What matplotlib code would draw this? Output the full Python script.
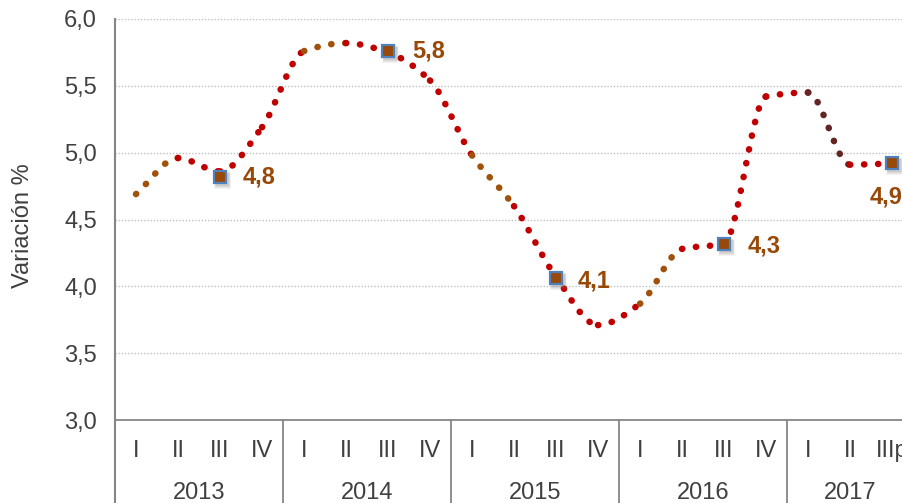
import numpy as np
import matplotlib
matplotlib.use('Agg')
import matplotlib.pyplot as plt
from matplotlib.path import Path
from matplotlib.patches import PathPatch
import matplotlib.transforms as mtransforms

plt.rcParams['font.family'] = ['Liberation Sans', 'DejaVu Sans']

# data
years = ['2013', '2014', '2015', '2016', '2017']
quarters_per_year = [4, 4, 4, 4, 3]
quarter_labels = ['I', 'II', 'III', 'IV', 'I', 'II', 'III', 'IV', 'I', 'II', 'III', 'IV',
                  'I', 'II', 'III', 'IV', 'I', 'II', 'IIIp']
line_values = [4.69, 4.96, 4.86, 5.19, 5.76, 5.82, 5.75, 5.54, 4.98, 4.60, 4.07, 3.71,
               3.87, 4.28, 4.32, 5.42, 5.45, 4.91, 4.92]
# colour of each piece between two quarters
segment_colors = ['brown', 'red', 'red', 'red', 'brown', 'red', 'red', 'red', 'brown', 'red',
                  'red', 'red', 'brown', 'red', 'red', 'red', 'dark', 'red']
marker_idx = [2, 6, 10, 14, 18]
marker_values = [4.82, 5.76, 4.06, 4.32, 4.92]
y_ticks = [3.0, 3.5, 4.0, 4.5, 5.0, 5.5, 6.0]

# styles / positions
palette = {'red': '#C00000', 'brown': '#A0520C', 'dark': '#632523'}
label_offsets = [(23, 0), (24, 0), (22, -3), (24, -2), (-22, -34)]
text_grey = '#404040'
axis_grey = '#868686'
fs = 17

fig = plt.figure(figsize=(9.03, 5.03), dpi=100)
ax = fig.add_axes([115 / 903, 83 / 503, 798 / 903, 401 / 503])

n = len(line_values)
x = np.arange(n)
y = np.array(line_values)
ax.set_xlim(-0.5, n - 0.5)
ax.set_ylim(3.0, 6.0)

# smoothed line: bezier pieces with monotone (no overshoot) tangents
d = np.diff(y)
m = np.zeros(n)
m[0], m[-1] = d[0], d[-1]
for k in range(1, n - 1):
    if d[k - 1] * d[k] > 0:
        m[k] = 2 / (1 / d[k - 1] + 1 / d[k])
for i in range(n - 1):
    p1 = (x[i], y[i])
    p2 = (x[i + 1], y[i + 1])
    c1 = (x[i] + 1 / 3, y[i] + m[i] / 3)
    c2 = (x[i + 1] - 1 / 3, y[i + 1] - m[i + 1] / 3)
    path = Path([p1, c1, c2, p2], [Path.MOVETO, Path.CURVE4, Path.CURVE4, Path.CURVE4])
    ax.add_patch(PathPatch(path, fill=False, edgecolor=palette[segment_colors[i]],
                           linewidth=4.7, linestyle=(0, (0.05, 2.1)), capstyle='round',
                           zorder=3))

# markers with a soft shadow
mx = [x[i] for i in marker_idx]
for dx, dy, a, s in [(2, -3, 0.18, 11), (2, -2, 0.25, 9.5)]:
    shadow = mtransforms.offset_copy(ax.transData, fig=fig, x=dx, y=dy, units='dots')
    ax.plot(mx, marker_values, 's', ms=s, color='#7F7F7F', alpha=a, mec='none',
            transform=shadow, zorder=4, clip_on=False)
ax.plot(mx, marker_values, 's', ms=9, mfc='#984807', mec='#4F81BD', mew=1.6,
        zorder=5, clip_on=False)

for v, xi, off in zip(marker_values, mx, label_offsets):
    ax.annotate(f'{v:.1f}'.replace('.', ','), (xi, v), xytext=off,
                textcoords='offset pixels', ha='left', va='center', fontsize=fs,
                fontweight='bold', color='#984807', zorder=6, annotation_clip=False)

# axes styling
for s in ['top', 'right']:
    ax.spines[s].set_visible(False)
ax.spines['left'].set_color(axis_grey)
ax.spines['left'].set_linewidth(1.5)
ax.spines['bottom'].set_color(axis_grey)
ax.spines['bottom'].set_linewidth(1.3)

ax.set_yticks(y_ticks)
ax.set_yticklabels([f'{v:.1f}'.replace('.', ',') for v in y_ticks])
ax.tick_params(axis='y', length=0, pad=13, labelsize=fs, labelcolor=text_grey)
ax.set_xticks([])
ax.yaxis.grid(True, linestyle=(0, (1, 1.3)), color='#BFBFBF', linewidth=1.0)
ax.set_axisbelow(True)

# category axis: quarters and years
trans = mtransforms.blended_transform_factory(ax.transData, ax.transAxes)
for xi, q in zip(x, quarter_labels):
    ax.text(xi, -37 / 401, q, transform=trans, ha='center', va='baseline',
            fontsize=fs, color=text_grey)

start = -0.5
ax.plot([start, start], [0, -0.21], transform=trans, color=axis_grey, lw=1.5, clip_on=False)
for yr, nq in zip(years, quarters_per_year):
    ax.text(start + nq / 2, -79 / 401, yr, transform=trans, ha='center', va='baseline',
            fontsize=fs, color=text_grey)
    start += nq
    ax.plot([start, start], [0, -0.21], transform=trans, color=axis_grey, lw=1.3, clip_on=False)

fig.text(23 / 903, 1 - 226 / 503, 'Variación %', rotation=90, ha='center', va='center',
         fontsize=fs, color=text_grey)

fig.savefig('out.png', dpi=100)
